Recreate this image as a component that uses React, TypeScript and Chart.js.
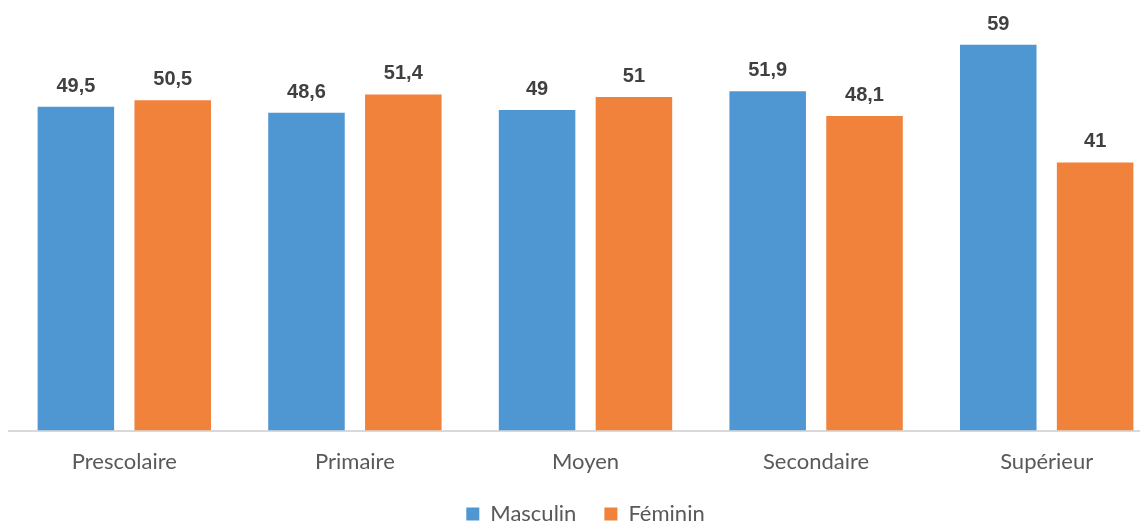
import React, { useEffect, useRef } from "react";
import { Chart, registerables } from "chart.js";

Chart.register(...registerables);

const categories = ["Prescolaire", "Primaire", "Moyen", "Secondaire", "Supérieur"];
const masculin = [49.5, 48.6, 49, 51.9, 59];
const feminin = [50.5, 51.4, 51, 48.1, 41];
const seriesNames = ["Masculin", "Féminin"];

const fmt = (v: number) => String(v).replace(".", ",");

const labelPlugin = {
  id: "valueLabels",
  afterDatasetsDraw(chart: any) {
    const ctx = chart.ctx;
    ctx.save();
    ctx.font = "bold 20px 'Liberation Sans', Arial, sans-serif";
    ctx.fillStyle = "#404040";
    ctx.textAlign = "center";
    ctx.textBaseline = "alphabetic";
    chart.data.datasets.forEach((ds: any, i: number) => {
      const meta = chart.getDatasetMeta(i);
      meta.data.forEach((bar: any, j: number) => {
        ctx.fillText(fmt(ds.data[j]), bar.x, bar.y - 15);
      });
    });
    ctx.restore();
  },
};

export default function App() {
  const ref = useRef<HTMLCanvasElement>(null);
  useEffect(() => {
    if (!ref.current) return;
    const chart = new Chart(ref.current, {
      type: "bar",
      data: {
        labels: categories,
        datasets: [
          { label: seriesNames[0], data: masculin, backgroundColor: "#4E97D2", barPercentage: 0.79, categoryPercentage: 0.84 },
          { label: seriesNames[1], data: feminin, backgroundColor: "#F0823B", barPercentage: 0.79, categoryPercentage: 0.84 },
        ],
      },
      options: {
        animation: false,
        responsive: false,
        maintainAspectRatio: false,
        layout: { padding: { left: 1, right: 10, top: 4, bottom: 0 } },
        plugins: {
          tooltip: { enabled: false },
          legend: {
            position: "bottom",
            labels: {
              boxWidth: 13,
              boxHeight: 13,
              padding: 28,
              color: "#595959",
              font: { family: "Lato, 'Open Sans', sans-serif", size: 22 },
            },
          },
        },
        scales: {
          x: {
            grid: { display: false, drawTicks: false },
            border: { display: true, color: "#d9d9d9", width: 2 },
            ticks: {
              color: "#595959",
              padding: 18,
              font: { family: "Lato, 'Open Sans', sans-serif", size: 22 },
            },
            afterFit: (scale: any) => {
              scale.height = scale.height - 18;
            },
          },
          y: {
            display: false,
            min: 0,
            max: 64,
          },
        },
      },
      plugins: [labelPlugin],
    });
    return () => chart.destroy();
  }, []);
  return (
    <div style={{ width: 1140, height: 514, overflow: "hidden" }}>
      <canvas ref={ref} width={1164} height={527} style={{ display: "block" }} />
    </div>
  );
}
